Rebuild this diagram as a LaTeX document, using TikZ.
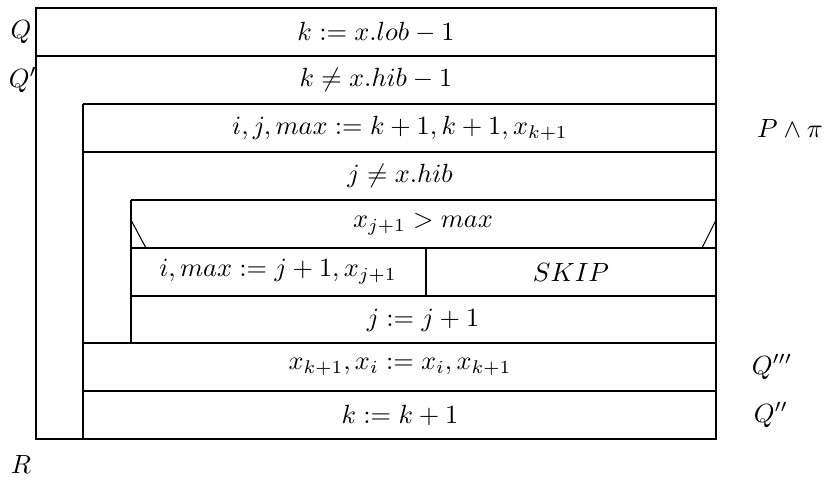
\documentclass[tikz,border=0pt]{standalone}
\usepackage{amsmath}
\begin{document}
\begin{tikzpicture}[x=0.38pt,y=-0.38pt,
  line/.style={draw=black,line width=0.4pt},
  txt/.style={inner sep=0pt,anchor=center}]
\useasboundingbox (0,0) rectangle (830,484);
% outer box
\draw[line] (36,8) rectangle (716,439);
\draw[line] (36,56) -- (716,56);
% second level
\draw[line] (83,104) -- (716,104);
\draw[line] (83,104) -- (83,439);
\draw[line] (83,152) -- (716,152);
% third level
\draw[line] (131,200) -- (716,200);
\draw[line] (131,200) -- (131,343);
\draw[line] (131,248) -- (716,248);
\draw[line] (131,296) -- (716,296);
\draw[line] (426,248) -- (426,296);
\draw[line] (131,220) -- (146,248);
\draw[line] (716,220) -- (702,248);
\draw[line] (83,343) -- (716,343);
\draw[line] (83,391) -- (716,391);
% texts
\node[txt] (t1) at (376,32) {$k := x.lob - 1$};
\node[txt] (t2) at (376,80) {$k \neq x.hib - 1$};
\node[txt] (t3) at (400,128) {$i,j,max := k+1,k+1,x_{k+1}$};
\node[txt] (t4) at (400,176) {$j \neq x.hib$};
\node[txt] (t5) at (423,224) {$x_{j+1} > max$};
\node[txt] (t6) at (278,272) {$i,max := j+1,x_{j+1}$};
\node[txt] (t7) at (571,272) {$SKIP$};
\node[txt] (t8) at (423,320) {$j := j+1$};
\node[txt] (t9) at (400,367) {$x_{k+1},x_i := x_i,x_{k+1}$};
\node[txt] (t10) at (400,415) {$k := k+1$};
% labels
\node[txt] (lQ) at (21,32) {$Q$};
\node[txt] (lQp) at (23,80) {$Q'$};
\node[txt] (lP) at (790,128) {$P \wedge \pi$};
\node[txt] (lQ3) at (772,367) {$Q'''$};
\node[txt] (lQ2) at (771,415) {$Q''$};
\node[txt] (lR) at (21,464) {$R$};
\end{tikzpicture}
\end{document}
